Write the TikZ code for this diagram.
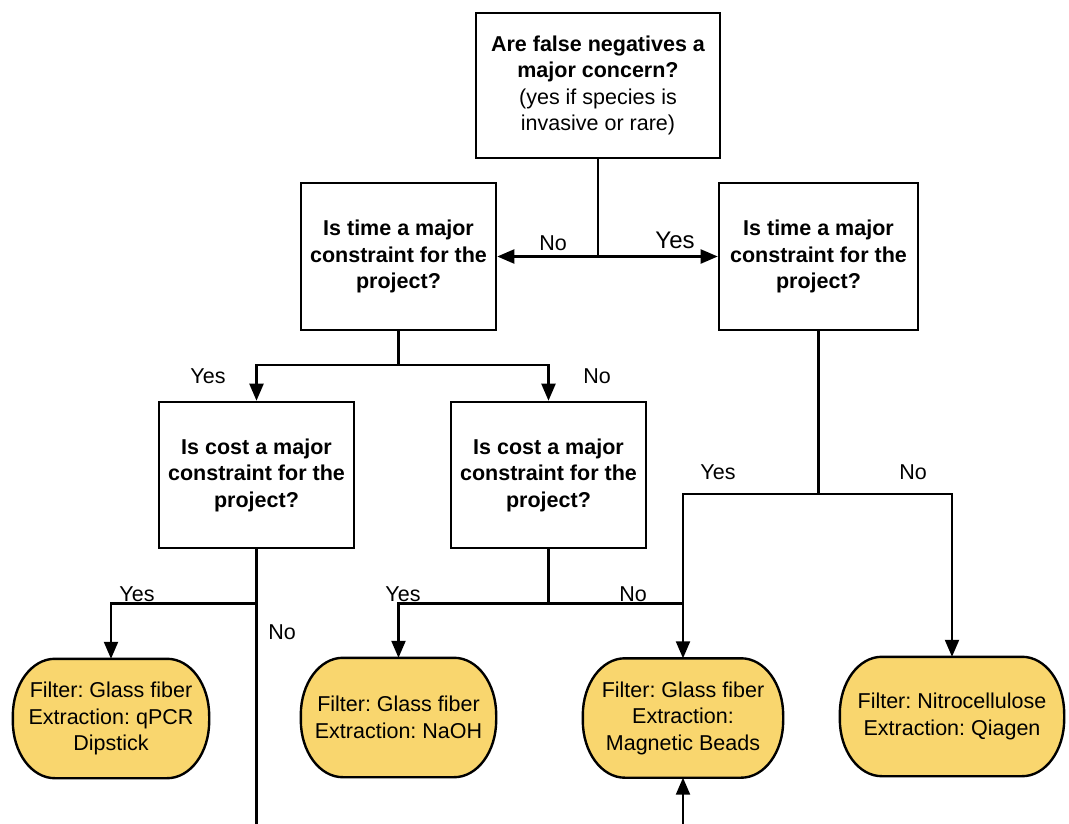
\documentclass[tikz,border=0pt]{standalone}
\usepackage{fontspec}
\setmainfont{Liberation Sans}
\frenchspacing
\usetikzlibrary{arrows.meta,backgrounds}
\definecolor{termfill}{RGB}{249,214,110}
\newcommand\termshape[1]{%
  \begin{pgfonlayer}{background}
    \path[fill=termfill, draw=black, line width=2.4pt]
      ([xshift=42pt]#1.north west) -- ([xshift=-42pt]#1.north east)
      arc[start angle=90, end angle=0, x radius=42pt, y radius=57pt]
      -- ([yshift=57pt]#1.south east)
      arc[start angle=0, end angle=-90, x radius=42pt, y radius=57pt]
      -- ([xshift=42pt]#1.south west)
      arc[start angle=270, end angle=180, x radius=42pt, y radius=57pt]
      -- ([yshift=-57pt]#1.north west)
      arc[start angle=180, end angle=90, x radius=42pt, y radius=57pt]
      -- cycle;
  \end{pgfonlayer}}
\begin{document}
\begin{tikzpicture}[x=1pt,y=-1pt,
  qbox/.style={draw, line width=2.6pt, minimum height=147pt, inner sep=0pt,
    align=center, font=\fontsize{21.5}{26.5}\selectfont\bfseries},
  term/.style={inner sep=0pt, align=center, minimum height=119pt,
    font=\fontsize{21.5}{26.5}\selectfont},
  conn/.style={line width=2.2pt},
  arr/.style={conn, -{Triangle[length=17pt,width=14pt]}},
  lbl/.style={inner sep=0pt, font=\fontsize{21.5}{24}\selectfont}
]
\useasboundingbox (0,0) rectangle (1069,824);

% question boxes
\node[qbox, minimum width=244pt, minimum height=145pt] (A) at (598,85.5)
  {Are false negatives a\\major concern?\\{\mdseries (yes if species is}\\{\mdseries invasive or rare)}};
\node[qbox, minimum width=195pt] (B) at (398.5,256.5)
  {Is time a major\\constraint for the\\project?};
\node[qbox, minimum width=199pt] (C) at (818.5,256.5)
  {Is time a major\\constraint for the\\project?};
\node[qbox, minimum width=195pt, minimum height=146pt] (D) at (256.5,475)
  {Is cost a major\\constraint for the\\project?};
\node[qbox, minimum width=195pt, minimum height=146pt] (E) at (548.5,475)
  {Is cost a major\\constraint for the\\project?};

% terminal boxes
\node[term, minimum width=196pt] (F) at (111,718.5)
  {Filter: Glass fiber\\Extraction: qPCR\\Dipstick};
\node[term, minimum width=195pt] (G) at (398.5,717.5)
  {Filter: Glass fiber\\Extraction: NaOH};
\node[term, minimum width=200pt] (H) at (683,718)
  {Filter: Glass fiber\\Extraction:\\Magnetic Beads};
\node[term, minimum width=224pt] (I) at (952,716.5)
  {Filter: Nitrocellulose\\Extraction: Qiagen};
\termshape{F}\termshape{G}\termshape{H}\termshape{I}

% helper coordinates
\coordinate (yB) at (0,365);
\coordinate (yC) at (0,494);
\coordinate (yE) at (0,603.5);
\coordinate (ybot) at (0,830);

\coordinate (jA) at (A.south |- B.east);
\coordinate (jB) at (B.south |- yB);
\coordinate (jC) at (C.south |- yC);
\coordinate (jD) at (D.south |- yE);
\coordinate (jE) at (E.south |- yE);
\coordinate (jH) at (H.north |- yE);
\coordinate (dbot) at (D.south |- ybot);
\coordinate (hbot) at (H.south |- ybot);

% connectors
\draw[conn] (A.south) -- (jA);
\draw[arr] (jA) -- (B.east);
\draw[arr] (jA) -- (C.west);

\draw[conn] (B.south) -- (jB);
\draw[arr] (jB) -| (D.north);
\draw[arr] (jB) -| (E.north);

\draw[conn] (D.south) -- (dbot);
\draw[arr] (jD) -| (F.north);

\draw[conn] (E.south) -- (jE);
\draw[arr] (jE) -| (G.north);
\draw[arr] (jE) -| (H.north);

\draw[conn] (C.south) -- (jC);
\draw[conn] (jC) -| (jH);
\draw[arr] (jC) -| (I.north);

\draw[arr] (hbot) -- (H.south);

% labels
\node[lbl] (l1) at (553,243) {No};
\node[lbl, font=\fontsize{24}{26}\selectfont] (l2) at (675,240) {Yes};
\node[lbl] (l3) at (208,376) {Yes};
\node[lbl] (l4) at (597,376) {No};
\node[lbl] (l5) at (718,472) {Yes};
\node[lbl] (l6) at (913,472) {No};
\node[lbl] (l7) at (137,594) {Yes};
\node[lbl] (l8) at (282,632) {No};
\node[lbl] (l9) at (403,594) {Yes};
\node[lbl] (l10) at (633,594) {No};
\end{tikzpicture}
\end{document}
